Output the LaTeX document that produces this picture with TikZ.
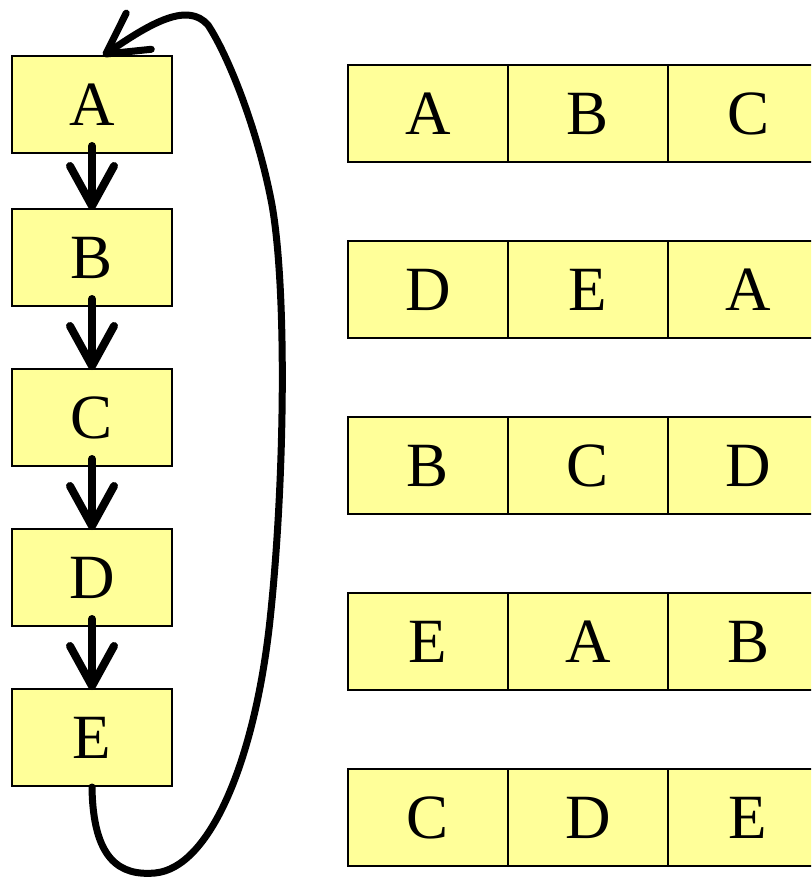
\documentclass[tikz,border=0pt]{standalone}
\usepackage{fontspec}
\setmainfont{Liberation Serif}
\usetikzlibrary{arrows.meta}
\definecolor{boxyellow}{HTML}{FFFF99}
\tikzset{
  cell/.style={draw=black, line width=2pt, fill=boxyellow, minimum width=160pt, minimum height=97pt, inner sep=0pt, font=\fontsize{63}{70}\selectfont, anchor=center},
  flow/.style={line width=8pt, line cap=round, -{Straight Barb[length=40pt, width=44pt, line cap=round, line join=round]}},
}
\begin{document}
\begin{tikzpicture}[x=1pt, y=-1pt]
\useasboundingbox (0,0) rectangle (811,877);
\begin{scope}
\clip (0,0) rectangle (811,877);
% left chain
\node[cell] (A) at (92,104.5) {A};
\node[cell] (B) at (92,257.5) {B};
\node[cell] (C) at (92,417.5) {C};
\node[cell] (D) at (92,577.5) {D};
\node[cell] (E) at (92,737.5) {E};
% right table
\foreach \r/\y/\a/\b/\c in {1/113.5/A/B/C, 2/289.5/D/E/A, 3/465.5/B/C/D, 4/641.5/E/A/B, 5/817.5/C/D/E}{
  \node[cell] (r\r a) at (428,\y) {\a};
  \node[cell] (r\r b) at (588,\y) {\b};
  \node[cell] (r\r c) at (748,\y) {\c};
}
\end{scope}
% arrows
\draw[flow] ([yshift=8pt]A.south) -- ([yshift=-2pt]B.north);
\draw[flow] ([yshift=8pt]B.south) -- ([yshift=-2pt]C.north);
\draw[flow] ([yshift=8pt]C.south) -- ([yshift=-2pt]D.north);
\draw[flow] ([yshift=8pt]D.south) -- ([yshift=-2pt]E.north);
\coordinate (loopend) at ([xshift=11pt,yshift=-1pt]A.north);
\draw[flow, line width=7pt] (E.south) .. controls (93,860) and (120,876) .. (155,873)
  .. controls (210,868) and (255,760) .. (270,620)
  .. controls (285,480) and (287,290) .. (272,205)
  .. controls (258,130) and (228,55) .. (208,25)
  .. controls (188,2) and (152,22) .. (loopend);
\end{tikzpicture}
\end{document}
